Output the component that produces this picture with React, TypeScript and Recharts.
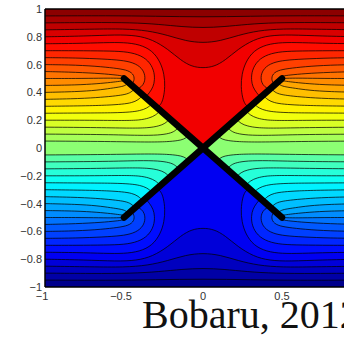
import { Area, ComposedChart, Line, ReferenceLine, XAxis, YAxis } from "recharts";

type Pt = [number, number];

// Contours read from the upper-left quadrant, from the left edge (x = -1)
// to where they end: on the crack arm, at the crack tip, or at x = 0 (bowls).
// The field is mirror-symmetric in x and antisymmetric in y.
const c05: Pt[] = [[-1, 0.05], [-0.6, 0.047], [-0.35, 0.042], [-0.22, 0.045], [-0.16, 0.053], [-0.12, 0.062], [-0.09, 0.09]];
const c10: Pt[] = [[-1, 0.1], [-0.6, 0.097], [-0.4, 0.09], [-0.28, 0.092], [-0.21, 0.105], [-0.18, 0.12], [-0.15, 0.15]];
const c15: Pt[] = [[-1, 0.15], [-0.65, 0.147], [-0.45, 0.142], [-0.34, 0.145], [-0.28, 0.158], [-0.24, 0.175], [-0.21, 0.21]];
const c20: Pt[] = [[-1, 0.2], [-0.7, 0.2], [-0.5, 0.197], [-0.4, 0.2], [-0.34, 0.215], [-0.3, 0.235], [-0.27, 0.27]];
const c25: Pt[] = [[-1, 0.25], [-0.72, 0.252], [-0.56, 0.253], [-0.46, 0.258], [-0.4, 0.268], [-0.355, 0.285], [-0.32, 0.32]];
const c30: Pt[] = [[-1, 0.3], [-0.75, 0.303], [-0.6, 0.308], [-0.51, 0.315], [-0.45, 0.325], [-0.41, 0.345], [-0.38, 0.38]];
const c35: Pt[] = [[-1, 0.35], [-0.78, 0.355], [-0.64, 0.365], [-0.55, 0.375], [-0.49, 0.385], [-0.455, 0.4], [-0.43, 0.43]];
const c40: Pt[] = [[-1, 0.4], [-0.8, 0.405], [-0.67, 0.415], [-0.58, 0.43], [-0.52, 0.44], [-0.49, 0.45], [-0.47, 0.47]];
const c45: Pt[] = [[-1, 0.45], [-0.8, 0.453], [-0.67, 0.462], [-0.58, 0.472], [-0.525, 0.48], [-0.5, 0.484], [-0.49, 0.49]];
const c50: Pt[] = [[-1, 0.5], [-0.8, 0.5], [-0.65, 0.502], [-0.56, 0.503], [-0.5, 0.5]];
const c55: Pt[] = [[-1, 0.55], [-0.8, 0.545], [-0.64, 0.535], [-0.55, 0.525], [-0.5, 0.518], [-0.478, 0.5], [-0.488, 0.488]];
const c60: Pt[] = [[-1, 0.6], [-0.8, 0.597], [-0.64, 0.585], [-0.54, 0.572], [-0.47, 0.558], [-0.435, 0.525], [-0.435, 0.48], [-0.455, 0.455]];
const c65: Pt[] = [[-1, 0.65], [-0.8, 0.648], [-0.63, 0.64], [-0.52, 0.632], [-0.44, 0.615], [-0.385, 0.575], [-0.365, 0.52], [-0.37, 0.47], [-0.39, 0.44], [-0.42, 0.42]];
const c70: Pt[] = [[-1, 0.7], [-0.8, 0.7], [-0.62, 0.698], [-0.5, 0.695], [-0.41, 0.675], [-0.345, 0.63], [-0.31, 0.56], [-0.305, 0.49], [-0.315, 0.44], [-0.34, 0.395], [-0.365, 0.365]];
const c75: Pt[] = [[-1, 0.75], [-0.8, 0.752], [-0.62, 0.758], [-0.5, 0.76], [-0.4, 0.745], [-0.32, 0.7], [-0.27, 0.62], [-0.245, 0.53], [-0.24, 0.44], [-0.25, 0.36], [-0.265, 0.315], [-0.29, 0.29]];
const c80: Pt[] = [[-1, 0.8], [-0.75, 0.805], [-0.55, 0.815], [-0.42, 0.81], [-0.32, 0.78], [-0.22, 0.71], [-0.14, 0.63], [-0.07, 0.585], [0, 0.575]];
const c85: Pt[] = [[-1, 0.85], [-0.7, 0.855], [-0.5, 0.858], [-0.35, 0.845], [-0.22, 0.81], [-0.11, 0.77], [0, 0.755]];
const c90: Pt[] = [[-1, 0.9], [-0.7, 0.903], [-0.45, 0.902], [-0.28, 0.89], [-0.13, 0.872], [0, 0.865]];
const c95: Pt[] = [[-1, 0.95], [-0.6, 0.952], [-0.3, 0.948], [0, 0.942]];

const levels = [0.05, 0.1, 0.15, 0.2, 0.25, 0.3, 0.35, 0.4, 0.45, 0.5, 0.55, 0.6, 0.65, 0.7, 0.75, 0.8, 0.85, 0.9, 0.95];
const contours = [c05, c10, c15, c20, c25, c30, c35, c40, c45, c50, c55, c60, c65, c70, c75, c80, c85, c90, c95];

// x = 1 lies past the right edge of the picture, so its label is not shown
const xTicks = [-1, -0.5, 0, 0.5];
const yTicks = [-1, -0.8, -0.6, -0.4, -0.2, 0, 0.2, 0.4, 0.6, 0.8, 1];

const crackA: Pt[] = [[-0.5, 0.5], [0.5, -0.5]];
const crackB: Pt[] = [[-0.5, -0.5], [0.5, 0.5]];

// jet colormap over [-1, 1]
const jet = (u: number) => {
  const t = (u + 1) / 2;
  const c = (k: number) => Math.round(255 * Math.max(0, Math.min(1, 1.5 - Math.abs(4 * t - k))));
  return `rgb(${c(3)},${c(2)},${c(1)})`;
};

const pin = (p: Pt): Pt[] => [p, p, p];
const toRows = (ps: Pt[]) => ps.map(([x, y]) => ({ x, y }));

// full contour from left edge to right edge, through the crack arms when it ends on one
function fullContour(left: Pt[], sign: number): Pt[] {
  const l: Pt[] = left.map(([x, y]) => [x, sign * y]);
  const r: Pt[] = l.slice().reverse().map(([x, y]) => [-x, y]);
  const end = l[l.length - 1];
  if (end[0] < 0) {
    return [...l.slice(0, -1), ...pin(end), ...pin([0, 0]), ...pin(r[0]), ...r.slice(1)];
  }
  return [...l, ...r.slice(1)];
}

// region below a contour (u < level), closed along the bottom of the plot
function region(line: Pt[]): Pt[] {
  return [
    ...pin([-1, -1]),
    ...pin(line[0]),
    ...line.slice(1, -1),
    ...pin(line[line.length - 1]),
    ...pin([1, -1]),
    [-1, -1],
  ];
}

type Band = { key: string; level: number; line: Pt[] };
const bands: Band[] = [];
for (let i = levels.length - 1; i >= 0; i--) {
  bands.push({ key: `p${i}`, level: levels[i], line: fullContour(contours[i], 1) });
}
for (let i = 0; i < levels.length; i++) {
  bands.push({ key: `n${i}`, level: -levels[i], line: fullContour(contours[i], -1) });
}

const frame: Pt[] = [[-1, -1], [-1, 1], [1, 1], [1, -1], [-1, -1]];

const tickFmt = (v: number) => {
  const s = String(Math.round(v * 10) / 10);
  return s.replace("-", "\u2212");
};

const XTick = (props: any) => {
  const { x, y, payload } = props;
  const v = payload.value as number;
  return (
    <text x={v < 0 ? x - 3 : x} y={y} dy="0.71em" textAnchor="middle" fontSize={11} fill="#333" fontFamily="Liberation Sans, Arial, sans-serif">
      {tickFmt(v)}
    </text>
  );
};

export default function App() {
  return (
    <div
      style={{
        position: "absolute",
        left: 0,
        top: 0,
        width: 344,
        height: 339,
        overflow: "hidden",
        background: "#fff",
      }}
    >
      <ComposedChart width={365} height={330} margin={{ top: 9, right: 4, bottom: 0, left: 0 }}>
        <XAxis
          type="number"
          dataKey="x"
          domain={[-1, 1]}
          ticks={xTicks}
          allowDataOverflow
          height={43}
          tickSize={0}
          tickMargin={5}
          tick={<XTick />}
          axisLine={{ stroke: "#000", strokeWidth: 1.5 }}
        />
        <YAxis
          type="number"
          dataKey="y"
          domain={[-1, 1]}
          ticks={yTicks}
          allowDataOverflow
          width={45}
          tickSize={0}
          tickMargin={3}
          tickFormatter={tickFmt}
          tick={{ fontSize: 11, fill: "#333", fontFamily: "Liberation Sans, Arial, sans-serif" }}
          axisLine={{ stroke: "#000", strokeWidth: 1.5 }}
        />
        <Area
          data={toRows(frame)}
          dataKey="y"
          type="linear"
          baseValue={-1}
          fill={jet(0.975)}
          fillOpacity={1}
          stroke="none"
          isAnimationActive={false}
          dot={false}
          activeDot={false}
        />
        {bands.map((b) => (
          <Area
            key={`a-${b.key}`}
            data={toRows(region(b.line))}
            dataKey="y"
            type="basis"
            baseValue={-1}
            fill={jet(b.level - 0.025)}
            fillOpacity={1}
            stroke="none"
            isAnimationActive={false}
            dot={false}
            activeDot={false}
          />
        ))}
        {bands.map((b) => (
          <Line
            key={`l-${b.key}`}
            data={toRows(b.line)}
            dataKey="y"
            type="basis"
            stroke="#000"
            strokeOpacity={0.8}
            strokeWidth={0.9}
            dot={false}
            activeDot={false}
            isAnimationActive={false}
          />
        ))}
        <Line
          data={toRows(crackA)}
          dataKey="y"
          type="linear"
          stroke="#000"
          strokeWidth={6.5}
          strokeLinecap="round"
          dot={false}
          activeDot={false}
          isAnimationActive={false}
        />
        <Line
          data={toRows(crackB)}
          dataKey="y"
          type="linear"
          stroke="#000"
          strokeWidth={6.5}
          strokeLinecap="round"
          dot={false}
          activeDot={false}
          isAnimationActive={false}
        />
        <ReferenceLine y={1} stroke="#000" strokeWidth={1.5} />
      </ComposedChart>
      <svg width={344} height={339} style={{ position: "absolute", left: 0, top: 0 }}>
        <text x={142} y={328} fontSize={40} fill="#111" fontFamily="Liberation Serif, serif">
          Bobaru, 2012
        </text>
      </svg>
    </div>
  );
}
